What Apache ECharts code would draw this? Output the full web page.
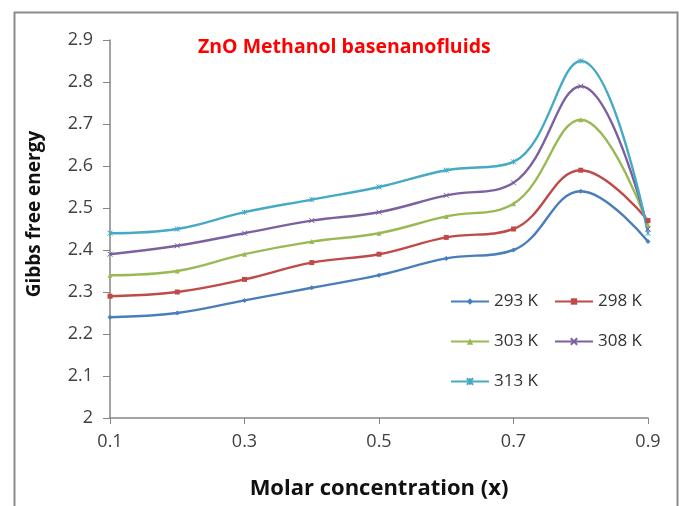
<!DOCTYPE html>
<html>
<head>
<meta charset="utf-8">
<script src="https://cdn.jsdelivr.net/npm/echarts@6/dist/echarts.min.js"></script>
<style>
  html, body { margin: 0; padding: 0; background: #fff; }
  #chart-div { width: 679px; height: 506px; }
</style>
</head>
<body>
<div id="chart-div"></div>
<script>
// molar concentration (x)
const categories = ['0.1', '0.2', '0.3', '0.4', '0.5', '0.6', '0.7', '0.8', '0.9'];
const yTicks = { min: 2, max: 2.9, step: 0.1 };

const s293 = [2.24, 2.25, 2.28, 2.31, 2.34, 2.38, 2.40, 2.54, 2.42];
const s298 = [2.29, 2.30, 2.33, 2.37, 2.39, 2.43, 2.45, 2.59, 2.47];
const s303 = [2.34, 2.35, 2.39, 2.42, 2.44, 2.48, 2.51, 2.71, 2.46];
const s308 = [2.39, 2.41, 2.44, 2.47, 2.49, 2.53, 2.56, 2.79, 2.45];
const s313 = [2.44, 2.45, 2.49, 2.52, 2.55, 2.59, 2.61, 2.85, 2.44];

const names = ['293 K', '298 K', '303 K', '308 K', '313 K'];
const colors = ['#4a7ebb', '#be4b48', '#98b954', '#7d60a0', '#46aac5'];
const symbols = ['diamond', 'rect', 'triangle', 'path://M0,0L10,10M10,0L0,10', 'path://M0,0L10,10M10,0L0,10M5,0L5,10'];

const font = '"Open Sans", sans-serif';
const axisColor = '#868686';

var myChart = echarts.init(document.getElementById('chart-div'));

const seriesData = [s293, s298, s303, s308, s313];
const series = seriesData.map((d, i) => ({
  name: names[i],
  type: 'line',
  data: d,
  smooth: 0.4,
  symbol: symbols[i],
  symbolSize: 5,
  lineStyle: { width: 2.4, color: colors[i] },
  itemStyle: { color: colors[i], borderColor: colors[i], borderWidth: i >= 3 ? 1 : 0 },
}));

const legendBase = {
  orient: 'horizontal',
  itemWidth: 38,
  itemHeight: 8,
  itemGap: 16,
  textStyle: { fontFamily: font, fontSize: 17, color: '#333' },
};

myChart.setOption({
  backgroundColor: '#fff',
  animation: false,
  color: colors,
  title: {
    text: 'ZnO Methanol basenanofluids',
    left: 193,
    top: 32,
    textStyle: { color: '#ff0000', fontFamily: font, fontWeight: 'bold', fontSize: 19.5 },
  },
  legend: [
    Object.assign({}, legendBase, { data: [names[0], names[1]], left: 445, top: 288 }),
    Object.assign({}, legendBase, { data: [names[2], names[3]], left: 445, top: 328 }),
    Object.assign({}, legendBase, { data: [names[4]], left: 445, top: 368 }),
  ],
  grid: { left: 110, right: 31, top: 40, bottom: 88, containLabel: false },
  xAxis: {
    type: 'category',
    data: categories,
    boundaryGap: false,
    name: 'Molar concentration (x)',
    nameLocation: 'middle',
    nameGap: 60,
    nameTextStyle: { fontFamily: font, fontWeight: 'bold', fontSize: 22, color: '#111' },
    axisLine: { lineStyle: { color: axisColor, width: 1.5 } },
    axisTick: { show: true, interval: 1, length: 6, lineStyle: { color: axisColor } },
    axisLabel: { interval: 1, fontFamily: font, fontSize: 18, color: '#404040', margin: 15 },
    splitLine: { show: false },
  },
  yAxis: {
    type: 'value',
    min: yTicks.min,
    max: yTicks.max,
    interval: yTicks.step,
    name: 'Gibbs free energy',
    nameLocation: 'middle',
    nameGap: 66,
    nameTextStyle: { fontFamily: font, fontWeight: 'bold', fontSize: 19, color: '#111', padding: [0, 0, 0, 30] },
    axisLine: { show: true, lineStyle: { color: axisColor, width: 1.5 } },
    axisTick: { show: true, length: 7, lineStyle: { color: axisColor } },
    axisLabel: { fontFamily: font, fontSize: 18, color: '#404040', margin: 17 },
    splitLine: { show: false },
  },
  graphic: [
    {
      type: 'rect',
      left: 12,
      top: 10,
      shape: { width: 663, height: 520 },
      style: { fill: 'none', stroke: '#8a8a8a', lineWidth: 2 },
      silent: true,
    },
  ],
  series,
});
</script>
</body>
</html>
